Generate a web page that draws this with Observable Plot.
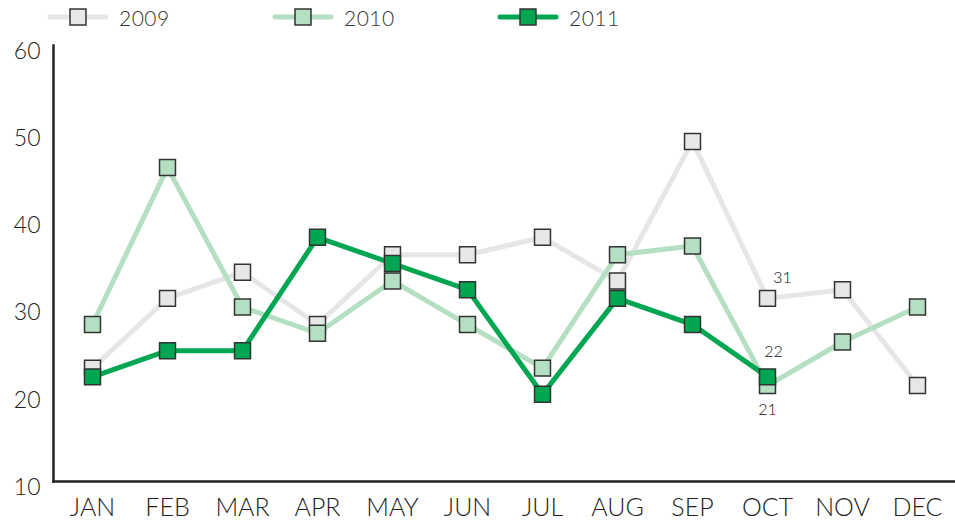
<!DOCTYPE html>
<html>
<head>
<meta charset="utf-8">
<script src="https://cdn.jsdelivr.net/npm/d3@7"></script>
<script src="https://cdn.jsdelivr.net/npm/@observablehq/plot@0.6"></script>
<style>
  body { margin: 0; background: #fff; font-family: Lato, "DejaVu Sans", sans-serif; }
  #legend { position: relative; height: 34px; width: 955px; }
  .item { position: absolute; top: 0; height: 34px; display: flex; align-items: center; }
  .item span { font-size: 21px; color: #333; margin-left: 10px; font-weight: 300; letter-spacing: 0.5px; }
</style>
</head>
<body>
<div id="legend"></div>
<div id="chart"></div>
<script>
const months = ["JAN","FEB","MAR","APR","MAY","JUN","JUL","AUG","SEP","OCT","NOV","DEC"];
const years = ["2009", "2010", "2011"];
const values2009 = [23, 31, 34, 28, 36, 36, 38, 33, 49, 31, 32, 21];
const values2010 = [28, 46, 30, 27, 33, 28, 23, 36, 37, 21, 26, 30];
const values2011 = [22, 25, 25, 38, 35, 32, 20, 31, 28, 22, null, null];
const lineColors = ["#e6e6e8", "#b5dfc2", "#00a651"];
const fillColors = ["#e6e7e9", "#b5dfc2", "#00a651"];
const yTicks = [10, 20, 30, 40, 50, 60];
const annotations = [
  {month: "OCT", value: 31, text: "31", dx: 15, dy: -21},
  {month: "OCT", value: 22, text: "22", dx: 6, dy: -25},
  {month: "OCT", value: 21, text: "21", dx: 0, dy: 24}
];

const seriesValues = [values2009, values2010, values2011];
const series = years.map((y, i) => months.map((m, j) => ({year: y, month: m, value: seriesValues[i][j]})).filter(d => d.value != null));

// legend
const legend = document.getElementById("legend");
years.forEach((y, i) => {
  const div = document.createElement("div");
  div.className = "item";
  div.style.left = (47 + i * 225) + "px";
  div.innerHTML = `<svg width="62" height="20"><line x1="3" x2="59" y1="10" y2="10" stroke="${lineColors[i]}" stroke-width="5" stroke-linecap="round"/><rect x="23" y="2" width="16" height="16" fill="${fillColors[i]}" stroke="#333" stroke-width="1.5"/></svg><span>${y}</span>`;
  legend.appendChild(div);
});

const marks = [];
series.forEach((data, i) => {
  marks.push(Plot.line(data, {x: "month", y: "value", stroke: lineColors[i], strokeWidth: 5, strokeLinejoin: "round", strokeLinecap: "round"}));
  marks.push(Plot.dot(data, {x: "month", y: "value", symbol: "square", r: 9, fill: fillColors[i], stroke: "#333", strokeWidth: 1.5}));
});

const annotationMarks = annotations.map(a =>
  Plot.text([a], {x: "month", y: "value", text: "text", dx: a.dx, dy: a.dy, fontSize: 16, fill: "#111", fontWeight: 300})
);

const chart = Plot.plot({
  width: 955,
  height: 488,
  marginTop: 11,
  marginBottom: 41,
  marginLeft: 53,
  marginRight: 0,
  style: {fontFamily: "Lato, 'DejaVu Sans', sans-serif", color: "#222", background: "#fff"},
  x: {type: "point", domain: months, padding: 0.5},
  y: {domain: [10, 60]},
  marks: [
    Plot.axisY({ticks: yTicks, tickSize: 0, tickPadding: 13, label: null, fontSize: 23, fontWeight: 300, dy: 6}),
    Plot.axisX({tickSize: 0, tickPadding: 17, label: null, fontSize: 25, fontWeight: 300, style: {letterSpacing: "1.5px"}}),
    ...marks,
    ...annotationMarks,
    Plot.frame({anchor: "left", stroke: "#222", strokeWidth: 2.5}),
    Plot.frame({anchor: "bottom", stroke: "#222", strokeWidth: 2.5})
  ]
});
document.getElementById("chart").appendChild(chart);
</script>
</body>
</html>
